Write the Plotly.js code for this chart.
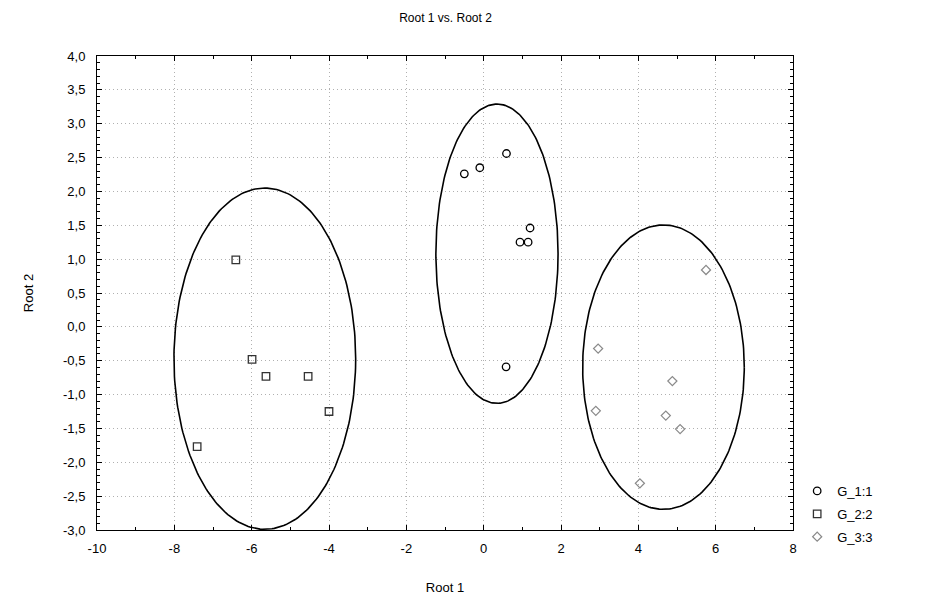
<!DOCTYPE html>
<html>
<head>
<meta charset="utf-8">
<script src="https://cdn.plot.ly/plotly-3.0.1.min.js"></script>
<style>
html,body{margin:0;padding:0;background:#fff;}
#chart{width:932px;height:601px;}
</style>
</head>
<body>
<div id="chart"></div>
<script>
// ---- data ----
const g1X = [0.59, -0.10, -0.50, 1.20, 0.94, 1.15, 0.58];
const g1Y = [2.56, 2.35, 2.26, 1.46, 1.25, 1.25, -0.59];
const g2X = [-6.41, -5.99, -5.63, -4.54, -4.00, -7.41];
const g2Y = [0.99, -0.48, -0.73, -0.73, -1.25, -1.77];
const g3X = [5.75, 2.96, 4.88, 2.90, 4.71, 5.08, 4.04];
const g3Y = [0.84, -0.32, -0.80, -1.24, -1.31, -1.51, -2.31];
const groupNames = ['G_1:1', 'G_2:2', 'G_3:3'];

// ellipse parameters per group: centre and semi-axes
const ellCX = [0.344, -5.66, 4.65];
const ellCY = [1.08, -0.47, -0.595];
const ellRX = [1.58, 2.35, 2.09];
const ellRY = [2.21, 2.52, 2.10];

const xTickVals = [-10, -8, -6, -4, -2, 0, 2, 4, 6, 8];
const xTickText = ['-10', '-8', '-6', '-4', '-2', '0', '2', '4', '6', '8'];
const yTickVals = [4, 3.5, 3, 2.5, 2, 1.5, 1, 0.5, 0, -0.5, -1, -1.5, -2, -2.5, -3];
const yTickText = ['4,0', '3,5', '3,0', '2,5', '2,0', '1,5', '1,0', '0,5', '0,0', '-0,5', '-1,0', '-1,5', '-2,0', '-2,5', '-3,0'];

// ---- build traces ----
const traces = [];
for (let k = 0; k < 3; k++) {
  const ex = [], ey = [];
  for (let i = 0; i <= 240; i++) {
    const t = 2 * Math.PI * i / 240;
    ex.push(ellCX[k] + ellRX[k] * Math.cos(t));
    ey.push(ellCY[k] + ellRY[k] * Math.sin(t));
  }
  traces.push({x: ex, y: ey, mode: 'lines', type: 'scatter', showlegend: false,
    hoverinfo: 'skip', line: {color: '#000', width: 1.6}});
}
const font = 'Arial, "Liberation Sans", sans-serif';
traces.push({x: g1X, y: g1Y, name: groupNames[0], legendgroup: 'a', mode: 'markers', type: 'scatter',
  marker: {symbol: 'circle-open', size: 7.5, color: '#000', line: {width: 1.3, color: '#000'}}});
traces.push({x: g2X, y: g2Y, name: groupNames[1], legendgroup: 'b', mode: 'markers', type: 'scatter',
  marker: {symbol: 'square-open', size: 7.5, color: '#333', line: {width: 1.3, color: '#333'}}});
traces.push({x: g3X, y: g3Y, name: groupNames[2], legendgroup: 'c', mode: 'markers', type: 'scatter',
  marker: {symbol: 'diamond-open', size: 7, color: '#8a8a8a', line: {width: 1.2, color: '#8a8a8a'}}});

const gridDash = '1px,3px';
const layout = {
  width: 932, height: 601,
  paper_bgcolor: '#fff', plot_bgcolor: '#fff',
  margin: {l: 97, r: 139, t: 56, b: 71, pad: 0},
  font: {family: font, size: 13, color: '#000'},
  title: {text: 'Root 1 vs. Root 2', font: {family: font, size: 12, color: '#000'},
    x: 0.478, xanchor: 'center', y: 0.97, yanchor: 'middle'},
  showlegend: true,
  legend: {x: 1.006, xanchor: 'left', y: 0.114, yanchor: 'top', bgcolor: 'rgba(0,0,0,0)',
    font: {family: font, size: 13, color: '#000'}, traceorder: 'grouped', tracegroupgap: 3,
    itemwidth: 30},
  xaxis: {
    range: [-10, 8], tickvals: xTickVals, ticktext: xTickText,
    showline: true, linecolor: '#000', linewidth: 1, mirror: 'allticks',
    ticks: 'inside', ticklen: 5, tickcolor: '#000', ticklabelstandoff: 6,
    showgrid: true, gridcolor: '#b0b0b0', griddash: gridDash, gridwidth: 1,
    zeroline: false,
    minor: {dtick: 1, tick0: 0, ticks: 'inside', ticklen: 3, tickcolor: '#000', showgrid: false},
    title: {text: 'Root 1', font: {family: font, size: 13}, standoff: 28},
    tickfont: {family: font, size: 13}
  },
  yaxis: {
    range: [-3, 4], tickvals: yTickVals, ticktext: yTickText,
    showline: true, linecolor: '#000', linewidth: 1, mirror: 'allticks',
    ticks: 'inside', ticklen: 5, tickcolor: '#000', ticklabelstandoff: 8,
    showgrid: true, gridcolor: '#b0b0b0', griddash: gridDash, gridwidth: 1,
    zeroline: false,
    minor: {dtick: 0.1, tick0: 0, ticks: 'inside', ticklen: 3, tickcolor: '#000', showgrid: false},
    title: {text: 'Root 2', font: {family: font, size: 13}, standoff: 26},
    tickfont: {family: font, size: 13}
  }
};

Plotly.newPlot('chart', traces, layout, {displayModeBar: false, staticPlot: true});
</script>
</body>
</html>
